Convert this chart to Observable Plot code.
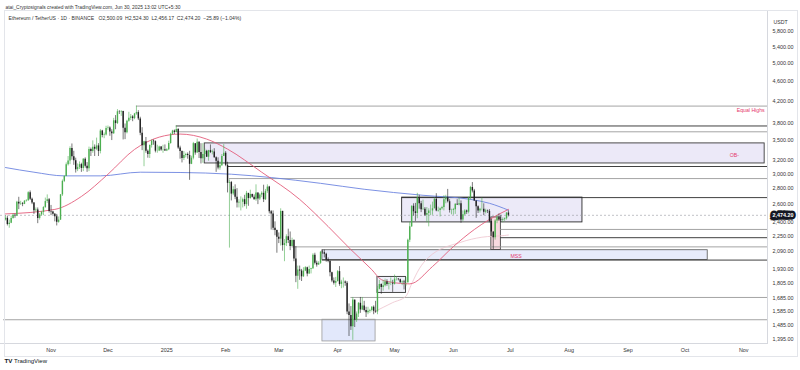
<!DOCTYPE html>
<html><head><meta charset="utf-8">
<script src="https://cdn.jsdelivr.net/npm/d3@7"></script>
<script src="https://cdn.jsdelivr.net/npm/@observablehq/plot@0.6"></script>
<style>
body{margin:0;background:#fff}
#wrap{position:relative;width:800px;height:370px;overflow:hidden;background:#fff}
#wrap svg{position:absolute;left:0;top:0}
#panel{position:absolute;left:4px;top:10px;width:792px;height:345px;border:1px solid #e3e5ea;pointer-events:none}
</style></head><body>
<div id="wrap"><div id="panel"></div></div>
<script>
// ---------- data ----------
const startDate = "2024-10-08";
const firstOpen = 2422;
const closes = [
  // Oct 8-31
  2440,2371,2386,2439,2476,2467,2629,2607,2611,2603,2641,2647,2747,2666,2621,2526,2535,2439,2479,2508,2566,2637,2660,2519,
  // Nov
  2513,2485,2458,2395,2420,2720,2896,2962,3127,3182,3372,3245,3187,3058,3090,3130,3075,3210,3106,3070,3356,3325,3392,3362,3414,3328,3658,3582,3592,3702,
  // Dec
  3708,3643,3613,3836,3787,4000,3995,4005,3705,3628,3830,3880,3906,3875,3960,3985,3870,3620,3415,3480,3330,3280,3420,3492,3482,3332,3334,3396,3350,3355,3333,
  // Jan
  3353,3452,3605,3657,3635,3686,3380,3325,3220,3265,3282,3265,3135,3225,3450,3305,3472,3310,3215,3280,3330,3240,3340,3310,3320,3230,3180,3080,3115,3250,3300,
  // Feb
  3120,2870,2880,2730,2785,2690,2620,2630,2630,2660,2600,2740,2675,2725,2690,2660,2745,2670,2720,2740,2660,2765,2820,2515,2490,2330,2305,2235,
  // Mar
  2215,2520,2150,2170,2240,2200,2140,2200,2020,1865,1920,1910,1860,1910,1940,1885,1925,1930,2055,1980,1965,1980,2085,2080,2065,2010,2000,1895,1825,1805,1820,
  // Apr
  1905,1795,1815,1815,1805,1580,1555,1475,1670,1520,1565,1645,1595,1625,1590,1575,1585,1590,1615,1585,1580,1755,1795,1770,1785,1815,1795,1800,1800,1795,
  // May
  1840,1840,1835,1810,1815,1810,1810,2205,2345,2580,2515,2495,2680,2610,2540,2545,2475,2495,2525,2525,2550,2665,2525,2530,2550,2565,2660,2680,2635,2530,2530,
  // Jun
  2540,2605,2595,2610,2420,2480,2525,2510,2680,2815,2770,2645,2575,2525,2545,2545,2510,2525,2520,2405,2290,2230,2410,2445,2420,2415,2425,2435,2500.09,2474.20
];
const highs = [
  2470,2465,2420,2465,2490,2487,2640,2690,2640,2625,2650,2660,2760,2770,2680,2625,2560,2560,2495,2520,2575,2680,2720,2675,
  2590,2520,2495,2485,2455,2725,2915,2975,3155,3250,3400,3445,3330,3225,3140,3170,3150,3220,3230,3160,3395,3380,3495,3430,3540,3450,3685,3670,3625,3740,
  3745,3730,3680,3880,3930,4040,4020,4020,4010,3780,3845,3990,3950,3930,3970,4107,4020,3900,3715,3490,3550,3350,3430,3510,3510,3495,3425,3410,3405,3425,3430,
  3370,3490,3620,3670,3675,3745,3700,3410,3335,3325,3300,3305,3330,3255,3470,3450,3525,3480,3450,3450,3365,3345,3345,3430,3350,3370,3245,3230,3170,3280,3435,
  3325,3165,2915,2895,2825,2850,2800,2660,2695,2680,2715,2765,2720,2780,2730,2720,2850,2745,2735,2760,2845,2790,2850,2830,2530,2525,2400,2310,
  2280,2550,2520,2210,2260,2320,2290,2225,2210,2140,1955,1955,1925,1940,1950,1945,1955,1935,2070,2075,2000,1995,2090,2105,2105,2075,2030,2000,1900,1850,1855,
  1915,1950,1830,1850,1825,1820,1640,1620,1690,1665,1580,1650,1690,1690,1660,1615,1615,1600,1620,1625,1660,1780,1830,1800,1830,1840,1835,1815,1850,1830,
  1875,1860,1845,1840,1825,1830,1855,2215,2395,2585,2610,2615,2740,2715,2640,2655,2565,2565,2550,2595,2630,2680,2735,2570,2560,2580,2710,2715,2790,2660,2545,
  2555,2610,2660,2680,2645,2525,2540,2535,2690,2830,2880,2790,2645,2585,2555,2680,2610,2545,2535,2540,2430,2290,2425,2470,2490,2475,2445,2445,2505,2524.30
];
const lows = [
  2410,2355,2330,2380,2430,2440,2460,2540,2590,2575,2600,2630,2640,2650,2600,2485,2510,2380,2420,2465,2470,2555,2615,2500,
  2470,2475,2400,2355,2385,2415,2700,2880,2960,3110,3130,3195,3120,3010,3030,3060,3020,3030,3080,3020,3030,3250,3300,3250,3340,3250,3290,3545,3530,3575,
  3670,3570,3500,3600,3680,3770,3950,3915,3510,3515,3610,3810,3840,3820,3855,3935,3840,3580,3340,3100,3300,3225,3220,3380,3425,3305,3300,3325,3330,3300,3330,
  3325,3340,3440,3590,3600,3630,3360,3210,3155,3190,3230,3210,2910,3130,3200,3270,3300,3220,3140,3150,3200,3235,3180,3295,3275,3225,3020,3055,3050,3105,3265,
  3100,2745,2125,2645,2710,2660,2560,2560,2525,2560,2575,2545,2580,2665,2680,2655,2640,2600,2650,2685,2625,2650,2740,2490,2310,2305,2250,2075,
  2170,2145,2095,1995,2140,2170,2100,2140,1995,1810,1755,1830,1820,1855,1905,1860,1880,1885,1925,1965,1945,1960,1970,2065,2030,1990,1985,1860,1810,1790,1770,
  1815,1780,1760,1765,1780,1560,1410,1450,1385,1470,1505,1540,1570,1590,1580,1540,1560,1570,1580,1560,1570,1560,1750,1715,1740,1775,1780,1750,1785,1730,
  1790,1825,1825,1805,1785,1750,1780,1805,2180,2340,2465,2405,2435,2545,2505,2535,2460,2390,2345,2470,2475,2550,2515,2510,2455,2535,2525,2610,2620,2500,2480,
  2475,2485,2590,2585,2385,2400,2470,2485,2490,2655,2745,2640,2440,2495,2500,2525,2470,2490,2495,2390,2240,2110,2205,2380,2405,2395,2390,2405,2420,2456.17
];

// moving averages
const blueDates = ["2024-10-08","2024-10-23","2024-11-08","2024-11-27","2024-12-18","2025-01-08","2025-02-04","2025-02-25","2025-03-23","2025-04-15","2025-05-16","2025-06-10","2025-06-20","2025-06-30"];
const blueValues = [3088,3022,2971,2971,3022,3018,2994,2948,2870,2792,2715,2664,2616,2534];
const redDates = ["2024-10-08","2024-11-03","2024-11-17","2024-12-01","2024-12-15","2024-12-28","2025-01-08","2025-01-22","2025-02-02","2025-02-20","2025-03-12","2025-03-27","2025-04-08","2025-04-19","2025-04-24","2025-04-29","2025-05-09","2025-05-21","2025-06-01","2025-06-12","2025-06-20","2025-06-30"];
const redValues = [2490,2543,2700,2994,3359,3556,3607,3524,3364,3022,2664,2349,2110,1923,1836,1815,1800,1951,2140,2316,2427,2543];
const paleDates = ["2025-04-20","2025-04-30","2025-05-07","2025-05-10","2025-05-14","2025-05-19","2025-06-05","2025-06-16","2025-06-28","2025-06-30"];
const paleValues = [1579,1650,1700,1800,1930,2037,2184,2235,2253,2258];

// horizontal levels (price, start date) running to the right edge
const darkLevelPrices = [3745,3103,2686,2230,2010];
const darkLevelStarts = ["2025-01-06","2025-02-02","2025-05-05","2025-06-26","2025-03-24"];
const greyLevelPrices = [4107,3645,2934,2317,2137,1690,1524];
const greyLevelStarts = ["2024-12-16","2025-01-06","2025-02-03","2025-06-26","2025-03-08","2025-04-08","2024-10-07"];

// zones: [from, to, low, high]
const obZone = ["2025-01-21","2025-11-12",3147,3454];
const rangeZone = ["2025-05-05","2025-08-08",2394,2686];
const mssZone = ["2025-03-24","2025-10-13",2010,2104];
const lowZone = ["2025-03-24","2025-04-21",1378,1524];
const smallZone = ["2025-04-22","2025-05-07",1726,1859];
const sweepZone = ["2025-06-21","2025-06-26",2107,2450];

// annotation texts: [text, date, price]
const equalHighsLabel = ["Equal Highs","2025-11-12",4107];
const obLabel = ["OB-","2025-10-27",3266];
const mssLabel = ["MSS","2025-07-04",2044];

const yTicks = [5800,5400,5000,4600,4200,3800,3500,3200,3000,2800,2600,2400,2250,2090,1930,1805,1685,1585,1485,1395];
const monthTicks = ["2024-11-01","2024-12-01","2025-01-01","2025-02-01","2025-03-01","2025-04-01","2025-05-01","2025-06-01","2025-07-01","2025-08-01","2025-09-01","2025-10-01","2025-11-01"];

const headerLine1 = "atai_Cryptosignals created with TradingView.com, Jun 30, 2025 13:02 UTC+5:30";
const headerLine2 = "Ethereum / TetherUS · 1D · BINANCE   O2,500.09  H2,524.30  L2,456.17  C2,474.20  −25.89 (−1.04%)";

// ---------- build ----------
const D = s => new Date(s + "T00:00:00Z");
const day0 = D(startDate);
const candles = closes.map((c, i) => ({
  date: d3.utcDay.offset(day0, i),
  open: i ? closes[i - 1] : firstOpen,
  high: highs[i], low: lows[i], close: c
}));
const last = candles[candles.length - 1];
const series = (ds, vs) => ds.map((d, i) => ({date: D(d), v: vs[i]}));
const levels = (ps, ss) => ps.map((p, i) => ({price: p, from: D(ss[i])}));
const zone = z => ({from: D(z[0]), to: D(z[1]), lo: z[2], hi: z[3]});
const lab = l => [{t: l[0], date: D(l[1]), p: l[2]}];
const xStart = new Date("2024-10-05T09:00:00Z");
const xEnd = new Date("2025-11-13T12:00:00Z");
const up = "#4caf50", down = "#1f1f1f";
const col = d => d.close >= d.open ? up : down;
const fmt = d3.format(",.2f");
const font = "'Liberation Sans', Arial, sans-serif";
const pink = "#e5396b";

const chart = Plot.plot({
  width: 800, height: 370,
  marginLeft: 0, marginRight: 33, marginTop: 10, marginBottom: 27,
  x: {type: "utc", domain: [xStart, xEnd], range: [0, 767]},
  y: {type: "log", domain: [1395, 5800], range: [338.3, 31.2]},
  style: {fontFamily: font, fontSize: "5.5px", color: "#333", background: "#fff", overflow: "visible"},
  marks: [
    // zones
    Plot.rect([zone(obZone)], {x1: "from", x2: "to", y1: "lo", y2: "hi", fill: "#ece9f8", stroke: "#3a3a3a", strokeWidth: 0.9}),
    Plot.rect([zone(rangeZone)], {x1: "from", x2: "to", y1: "lo", y2: "hi", fill: "#eceaf8", stroke: "#2a2a2a", strokeWidth: 0.9}),
    Plot.rect([zone(mssZone)], {x1: "from", x2: "to", y1: "lo", y2: "hi", fill: "#e7ebfb", stroke: "#555", strokeWidth: 0.8}),
    Plot.rect([zone(lowZone)], {x1: "from", x2: "to", y1: "lo", y2: "hi", fill: "#e2e8fb", stroke: "#9a9a9a", strokeWidth: 0.8}),
    Plot.rect([zone(smallZone)], {x1: "from", x2: "to", y1: "lo", y2: "hi", fill: "#f1f1fb", stroke: "#333", strokeWidth: 0.9}),
    Plot.rect([zone(sweepZone)], {x1: "from", x2: "to", y1: "lo", y2: "hi", fill: "#f8d9e0", stroke: "#333", strokeWidth: 0.8}),
    // levels
    Plot.ruleY(levels(greyLevelPrices, greyLevelStarts), {y: "price", x1: "from", x2: () => xEnd, stroke: "#9a9a9a", strokeWidth: 0.9}),
    Plot.ruleY(levels(darkLevelPrices, darkLevelStarts), {y: "price", x1: "from", x2: () => xEnd, stroke: "#2b2b2b", strokeWidth: 0.9}),
    // last price dashed line
    Plot.ruleY([last.close], {x1: () => xStart, x2: () => xEnd, stroke: "#9598a1", strokeWidth: 0.6, strokeDasharray: "2,2"}),
    // moving averages
    Plot.line(series(blueDates, blueValues), {x: "date", y: "v", stroke: "#6d84e0", strokeWidth: 0.9, curve: "monotone-x"}),
    Plot.line(series(paleDates, paleValues), {x: "date", y: "v", stroke: "#eec3cd", strokeWidth: 0.8, curve: "monotone-x"}),
    Plot.line(series(redDates, redValues), {x: "date", y: "v", stroke: "#e35d7c", strokeWidth: 0.9, curve: "monotone-x"}),
    // candles
    Plot.ruleX(candles, {x: "date", y1: "low", y2: "high", stroke: col, strokeWidth: 0.6}),
    Plot.ruleX(candles, {x: "date", y1: "open", y2: "close", stroke: col, strokeWidth: 1.4}),
    // annotation labels
    Plot.text(lab(equalHighsLabel), {x: "date", y: "p", text: "t", fill: pink, fontSize: 5.2, textAnchor: "end", dy: 4.6}),
    Plot.text(lab(obLabel), {x: "date", y: "p", text: "t", fill: pink, fontSize: 5.2, textAnchor: "middle"}),
    Plot.text(lab(mssLabel), {x: "date", y: "p", text: "t", fill: pink, fontSize: 5.2, textAnchor: "middle"}),
    // axes
    Plot.axisY({anchor: "right", ticks: yTicks, tickFormat: fmt, tickSize: 0, tickPadding: 5, label: null, fontSize: 5.4, fill: "#333"}),
    Plot.axisX({anchor: "bottom", ticks: monthTicks.map(D), tickSize: 0, tickPadding: 5, label: null, fontSize: 5.4, fill: "#333",
      tickFormat: d => d.getUTCMonth() === 0 ? String(d.getUTCFullYear()) : d3.utcFormat("%b")(d)}),
    Plot.frame({anchor: "right", stroke: "#d6d8de"}),
    Plot.frame({anchor: "bottom", stroke: "#d6d8de"}),
    // last price tag
    Plot.text([last.close], {y: d => d, frameAnchor: "right", dx: 5, textAnchor: "start", text: d => fmt(d),
      fill: "white", stroke: "#131722", strokeWidth: 5, strokeLinejoin: "miter", paintOrder: "stroke", fontSize: 5.4, fontWeight: "bold"}),
    // texts
    Plot.text(["USDT"], {frameAnchor: "top-right", dx: 6, dy: 10, textAnchor: "start", text: d => d, fontSize: 5.2, fill: "#333"}),
    Plot.text([headerLine1], {frameAnchor: "top-left", dx: 5, dy: -4.5, textAnchor: "start", text: d => d, fontSize: 4.9, fill: "#333"}),
    Plot.text([headerLine2], {frameAnchor: "top-left", dx: 8, dy: 6.3, textAnchor: "start", text: d => d, fontSize: 5.1, fill: "#333"}),
    Plot.text(["TV"], {frameAnchor: "bottom-left", dx: 4, dy: 19, textAnchor: "start", text: d => d, fontSize: 6.2, fontWeight: "bold", fill: "#131722"}),
    Plot.text(["TradingView"], {frameAnchor: "bottom-left", dx: 13.5, dy: 19, textAnchor: "start", text: d => d, fontSize: 6, fill: "#131722"})
  ]
});
document.getElementById("wrap").prepend(chart);
</script>
</body></html>
